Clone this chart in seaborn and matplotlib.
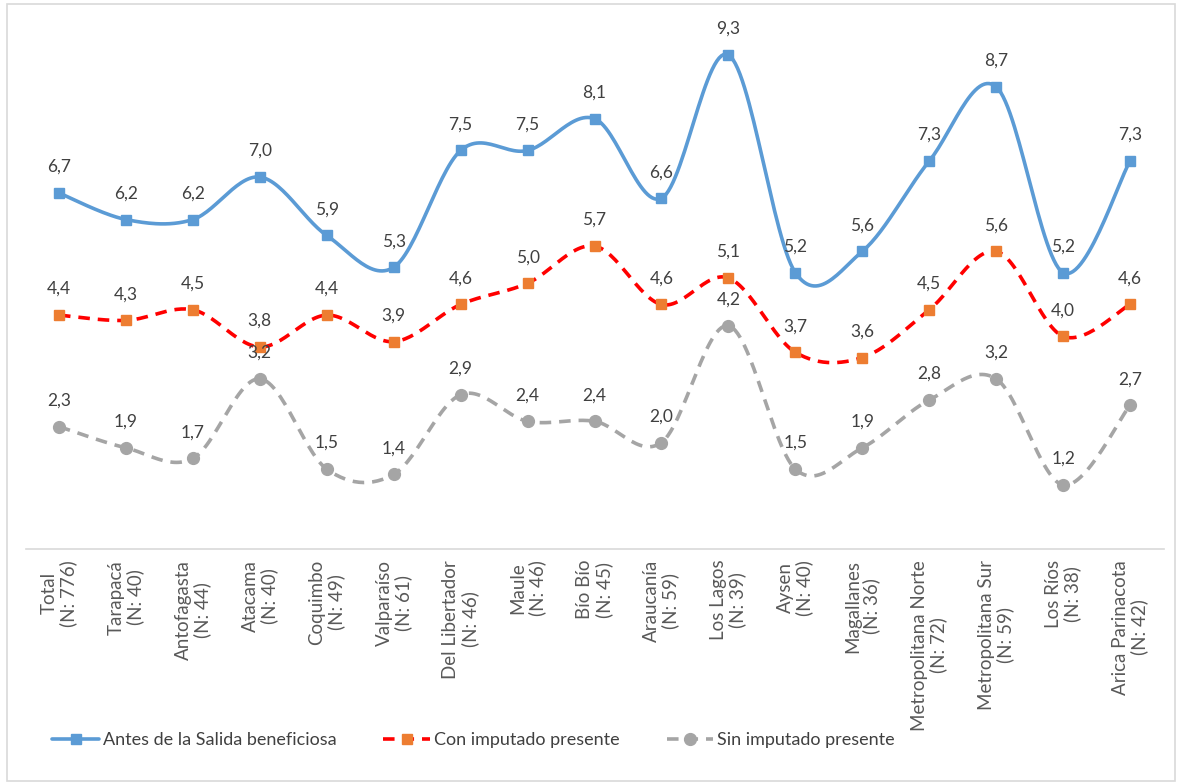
import numpy as np
import pandas as pd
import matplotlib
matplotlib.use("Agg")
import matplotlib.pyplot as plt
from matplotlib.lines import Line2D
from matplotlib.patches import Rectangle
import seaborn as sns

# Data
regiones = ["Total\n(N: 776)", "Tarapacá\n(N: 40)", "Antofagasta\n(N: 44)", "Atacama\n(N: 40)",
            "Coquimbo\n(N: 49)", "Valparaíso\n(N: 61)", "Del Libertador\n(N: 46)", "Maule\n(N: 46)",
            "Bío Bío\n(N: 45)", "Araucanía\n(N: 59)", "Los Lagos\n(N: 39)", "Aysen\n(N: 40)",
            "Magallanes\n(N: 36)", "Metropolitana Norte\n(N: 72)", "Metropolitana Sur\n(N: 59)",
            "Los Ríos\n(N: 38)", "Arica Parinacota\n(N: 42)"]
antes = [6.7, 6.2, 6.2, 7.0, 5.9, 5.3, 7.5, 7.5, 8.1, 6.6, 9.3, 5.2, 5.6, 7.3, 8.7, 5.2, 7.3]
con_imputado = [4.4, 4.3, 4.5, 3.8, 4.4, 3.9, 4.6, 5.0, 5.7, 4.6, 5.1, 3.7, 3.6, 4.5, 5.6, 4.0, 4.6]
sin_imputado = [2.3, 1.9, 1.7, 3.2, 1.5, 1.4, 2.9, 2.4, 2.4, 2.0, 4.2, 1.5, 1.9, 2.8, 3.2, 1.2, 2.7]

series_names = ["Antes de la Salida beneficiosa", "Con imputado presente", "Sin imputado presente"]

sns.set_theme(style="white")
plt.rcParams['font.family'] = ['Lato', 'DejaVu Sans']


def smooth(xs, ys, n=30):
    # Excel-like smoothed line: cubic Bezier segments with Catmull-Rom control points
    p = np.column_stack([xs, ys]).astype(float)
    p = np.vstack([p[0], p, p[-1]])
    out = []
    for i in range(1, len(p) - 2):
        p0, p1, p2, p3 = p[i - 1], p[i], p[i + 1], p[i + 2]
        c1 = p1 + (p2 - p0) / 6.0
        c2 = p2 - (p3 - p1) / 6.0
        t = np.linspace(0, 1, n)[:, None]
        seg = ((1 - t) ** 3) * p1 + 3 * ((1 - t) ** 2) * t * c1 + 3 * (1 - t) * t ** 2 * c2 + t ** 3 * p2
        out.append(seg if i == 1 else seg[1:])
    out = np.vstack(out)
    return out[:, 0], out[:, 1]


fig = plt.figure(figsize=(11.77, 7.82), dpi=100)
ax = fig.add_axes([25.5 / 1177, 0.2983, (1163.5 - 25.5) / 1177, 0.679])

x = np.arange(len(regiones))
styles = [
    dict(values=antes, line="#5B9BD5", mfc="#5B9BD5", marker="s", ls="-", ms=7),
    dict(values=con_imputado, line="#FF0000", mfc="#ED7D31", marker="s", ls=(0, (3.2, 2.2)), ms=7),
    dict(values=sin_imputado, line="#A5A5A5", mfc="#A5A5A5", marker="o", ls=(0, (3.2, 2.2)), ms=8.5),
]

handles = []
for name, st in zip(series_names, styles):
    sx, sy = smooth(x, st["values"])
    df = pd.DataFrame({"x": sx, "y": sy})
    sns.lineplot(data=df, x="x", y="y", ax=ax, color=st["line"], linewidth=2.6,
                 linestyle=st["ls"], sort=False, estimator=None)
    ax.plot(x, st["values"], linestyle="none", marker=st["marker"], markersize=st["ms"],
            markerfacecolor=st["mfc"], markeredgecolor=st["mfc"], zorder=5)
    for xi, v in zip(x, st["values"]):
        ax.annotate(f"{v:.1f}".replace(".", ","), (xi, v), xytext=(0, 13), textcoords="offset points",
                    ha="center", va="bottom", fontsize=12.5, color="#404040", zorder=6)
    handles.append(Line2D([0], [0], color=st["line"], linewidth=2.6, linestyle=st["ls"],
                          marker=st["marker"], markersize=st["ms"], markerfacecolor=st["mfc"],
                          markeredgecolor=st["mfc"]))

ax.set_xlim(-0.5, len(regiones) - 0.5)
ax.set_ylim(0, 10)
ax.set_yticks([])
ax.set_xticks(x)
ax.set_xticklabels(regiones, rotation=90, ha="center", va="top", multialignment="center",
                   fontsize=13.5, linespacing=1.1, color="#595959")
ax.tick_params(axis="x", length=0, pad=8)
ax.set_xlabel("")
ax.set_ylabel("")
for side in ["top", "right", "left"]:
    ax.spines[side].set_visible(False)
ax.spines["bottom"].set_color("#D9D9D9")
ax.spines["bottom"].set_linewidth(1.2)

fig.legend(handles, series_names, loc="center left", bbox_to_anchor=(36 / 1177, 1 - 740 / 782),
           ncol=3, frameon=False, fontsize=13, handlelength=2.6, handletextpad=0.2,
           columnspacing=2.6, labelcolor="#404040")

fig.patches.append(Rectangle((7 / 1177, 1 / 782), 1168 / 1177, 777 / 782, transform=fig.transFigure,
                             fill=False, edgecolor="#D9D9D9", linewidth=1.2))

fig.savefig("out.png", dpi=100)
